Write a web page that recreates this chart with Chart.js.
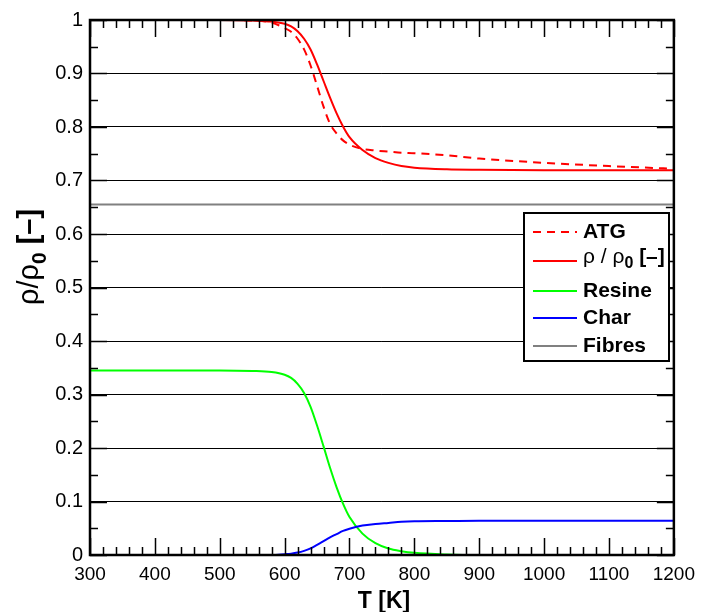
<!DOCTYPE html>
<html>
<head>
<meta charset="utf-8">
<script src="https://cdn.jsdelivr.net/npm/chart.js@4.4.0/dist/chart.umd.min.js"></script>
<style>
  body { margin: 0; background: #fff; }
  canvas { display: block; }
</style>
</head>
<body>
<canvas id="chart" width="703" height="612"></canvas>
<script>
// temperature grid [K]
const temps  = [300, 400, 500, 550, 580, 600, 610, 620, 630, 640, 650, 660, 670, 680, 690, 700, 720, 740, 760, 780, 800, 850, 900, 1000, 1100, 1200]
// measured (dashed) and computed rho/rho0
const atg    = [1.0, 1.0, 1.0, 0.999, 0.995, 0.985, 0.978, 0.965, 0.945, 0.915, 0.877, 0.838, 0.806, 0.788, 0.775, 0.767, 0.759, 0.756, 0.754, 0.752, 0.751, 0.747, 0.741, 0.733, 0.727, 0.722]
const rho    = [1.0, 1.0, 1.0, 0.999, 0.997, 0.993, 0.988, 0.979, 0.965, 0.945, 0.917, 0.886, 0.855, 0.826, 0.801, 0.781, 0.757, 0.742, 0.733, 0.727, 0.724, 0.721, 0.720, 0.719, 0.719, 0.719]
const resine = [0.345, 0.345, 0.345, 0.344, 0.342, 0.337, 0.331, 0.320, 0.303, 0.277, 0.242, 0.203, 0.163, 0.127, 0.096, 0.071, 0.040, 0.022, 0.012, 0.007, 0.004, 0.001, 0, 0, 0, 0]
const charr  = [0, 0, 0, 0, 0, 0.0015, 0.0025, 0.0045, 0.0078, 0.0125, 0.019, 0.026, 0.033, 0.039, 0.045, 0.049, 0.055, 0.058, 0.060, 0.062, 0.063, 0.0635, 0.064, 0.064, 0.064, 0.064]
const fibres = [0.655, 0.655, 0.655, 0.655, 0.655, 0.655, 0.655, 0.655, 0.655, 0.655, 0.655, 0.655, 0.655, 0.655, 0.655, 0.655, 0.655, 0.655, 0.655, 0.655, 0.655, 0.655, 0.655, 0.655, 0.655, 0.655]

const xTicks = [300, 400, 500, 600, 700, 800, 900, 1000, 1100, 1200]
const yTicks = [0, 0.1, 0.2, 0.3, 0.4, 0.5, 0.6, 0.7, 0.8, 0.9, 1]

const FONT = '"Liberation Sans", Arial, Helvetica, sans-serif'
Chart.defaults.font.family = FONT
Chart.defaults.color = '#000'

function pts(ys) {
      return temps.map((t, i) => ({ x: t, y: ys[i] }))
}

function line(label, ys, color, dash) {
      return {
            label: label,
            data: pts(ys),
            borderColor: color,
            borderWidth: 2,
            borderDash: dash || [],
            pointRadius: 0,
            fill: false,
            cubicInterpolationMode: 'monotone'
      }
}

// draw label pieces, each {t, font, dy}
function drawPieces(ctx, pieces, x, y, align) {
      let total = 0
      pieces.forEach(p => { ctx.font = p.font; total += ctx.measureText(p.t).width })
      let cx = align === 'center' ? x - total / 2 : x
      pieces.forEach(p => {
            ctx.font = p.font
            ctx.fillText(p.t, cx, y + (p.dy || 0))
            cx += ctx.measureText(p.t).width
      })
}

const rhoLabel = [
      { t: 'ρ / ρ', font: '21px ' + FONT },
      { t: '0', font: 'bold 16px ' + FONT, dy: 7 },
      { t: ' [–]', font: 'bold 21px ' + FONT }
]

const legendItems = [
      { color: '#ff0000', dash: [8, 6], pieces: [{ t: 'ATG', font: 'bold 21px ' + FONT }], y: 232, ly: 232 },
      { color: '#ff0000', dash: [], pieces: rhoLabel, y: 257, ly: 261 },
      { color: '#00ff00', dash: [], pieces: [{ t: 'Resine', font: 'bold 21px ' + FONT }], y: 291, ly: 291 },
      { color: '#0000ff', dash: [], pieces: [{ t: 'Char', font: 'bold 21px ' + FONT }], y: 318, ly: 318 },
      { color: '#808080', dash: [], pieces: [{ t: 'Fibres', font: 'bold 21px ' + FONT }], y: 346, ly: 346 }
]

const decor = {
      id: 'decor',
      afterDatasetsDraw(chart) {
            const ctx = chart.ctx
            const a = chart.chartArea
            const xs = chart.scales.x
            const ys = chart.scales.y
            ctx.save()
            ctx.strokeStyle = '#000'
            ctx.lineWidth = 1.5
            // inward ticks on all four sides
            for (let t = 300; t <= 1200; t += 20) {
                  const px = Math.round(xs.getPixelForValue(t)) + 0.5
                  const len = t % 100 === 0 ? 17 : 8
                  ctx.beginPath()
                  ctx.moveTo(px, a.bottom); ctx.lineTo(px, a.bottom - len)
                  ctx.moveTo(px, a.top); ctx.lineTo(px, a.top + len)
                  ctx.stroke()
            }
            for (let k = 0; k <= 20; k++) {
                  const py = Math.round(ys.getPixelForValue(k * 0.05)) + 0.5
                  const len = k % 2 === 0 ? 17 : 8
                  ctx.beginPath()
                  ctx.moveTo(a.left, py); ctx.lineTo(a.left + len, py)
                  ctx.moveTo(a.right, py); ctx.lineTo(a.right - len, py)
                  ctx.stroke()
            }
            // frame
            ctx.lineWidth = 2.5
            ctx.strokeRect(a.left, a.top, a.right - a.left, a.bottom - a.top)

            // legend box
            ctx.fillStyle = '#fff'
            ctx.fillRect(524, 213, 145, 148)
            ctx.lineWidth = 2
            ctx.strokeRect(524, 213, 145, 148)
            legendItems.forEach(it => {
                  ctx.strokeStyle = it.color
                  ctx.lineWidth = 2
                  ctx.setLineDash(it.dash)
                  ctx.beginPath()
                  ctx.moveTo(533, it.ly); ctx.lineTo(577, it.ly)
                  ctx.stroke()
                  ctx.setLineDash([])
                  ctx.fillStyle = '#000'
                  ctx.textAlign = 'left'
                  ctx.textBaseline = 'middle'
                  drawPieces(ctx, it.pieces, 583, it.y, 'left')
            })

            // axis titles
            ctx.fillStyle = '#000'
            ctx.textAlign = 'left'
            ctx.textBaseline = 'alphabetic'
            drawPieces(ctx, [{ t: 'T [K]', font: 'bold 23px ' + FONT }], 384, 608, 'center')

            ctx.translate(38, 257)
            ctx.rotate(-Math.PI / 2)
            drawPieces(ctx, [
                  { t: 'ρ/ρ', font: '29px ' + FONT },
                  { t: '0', font: 'bold 21px ' + FONT, dy: 8 },
                  { t: ' [–]', font: 'bold 29px ' + FONT }
            ], 0, 0, 'center')
            ctx.restore()
      }
}

new Chart(document.getElementById('chart'), {
      type: 'line',
      data: {
            datasets: [
                  line('Fibres', fibres, '#808080'),
                  line('Char', charr, '#0000ff'),
                  line('Resine', resine, '#00ff00'),
                  line('ρ / ρ0 [–]', rho, '#ff0000'),
                  line('ATG', atg, '#ff0000', [8, 6])
            ]
      },
      options: {
            responsive: false,
            animation: false,
            layout: { padding: { top: 20, right: 24, left: 0, bottom: 0 } },
            plugins: { legend: { display: false }, tooltip: { enabled: false } },
            scales: {
                  x: {
                        type: 'linear',
                        min: 300,
                        max: 1200,
                        afterBuildTicks: s => { s.ticks = xTicks.map(v => ({ value: v })) },
                        afterFit: s => { s.height = 57 },
                        ticks: { font: { size: 19 }, padding: 8, maxRotation: 0, callback: v => String(v) },
                        grid: { display: false, drawTicks: false },
                        border: { display: false }
                  },
                  y: {
                        type: 'linear',
                        min: 0,
                        max: 1,
                        afterBuildTicks: s => { s.ticks = yTicks.map(v => ({ value: v })) },
                        afterFit: s => { s.width = 90 },
                        ticks: { font: { size: 20 }, padding: 7, callback: v => String(v) },
                        grid: { color: '#000', lineWidth: 1, drawTicks: false },
                        border: { display: false }
                  }
            }
      },
      plugins: [decor]
})
</script>
</body>
</html>
